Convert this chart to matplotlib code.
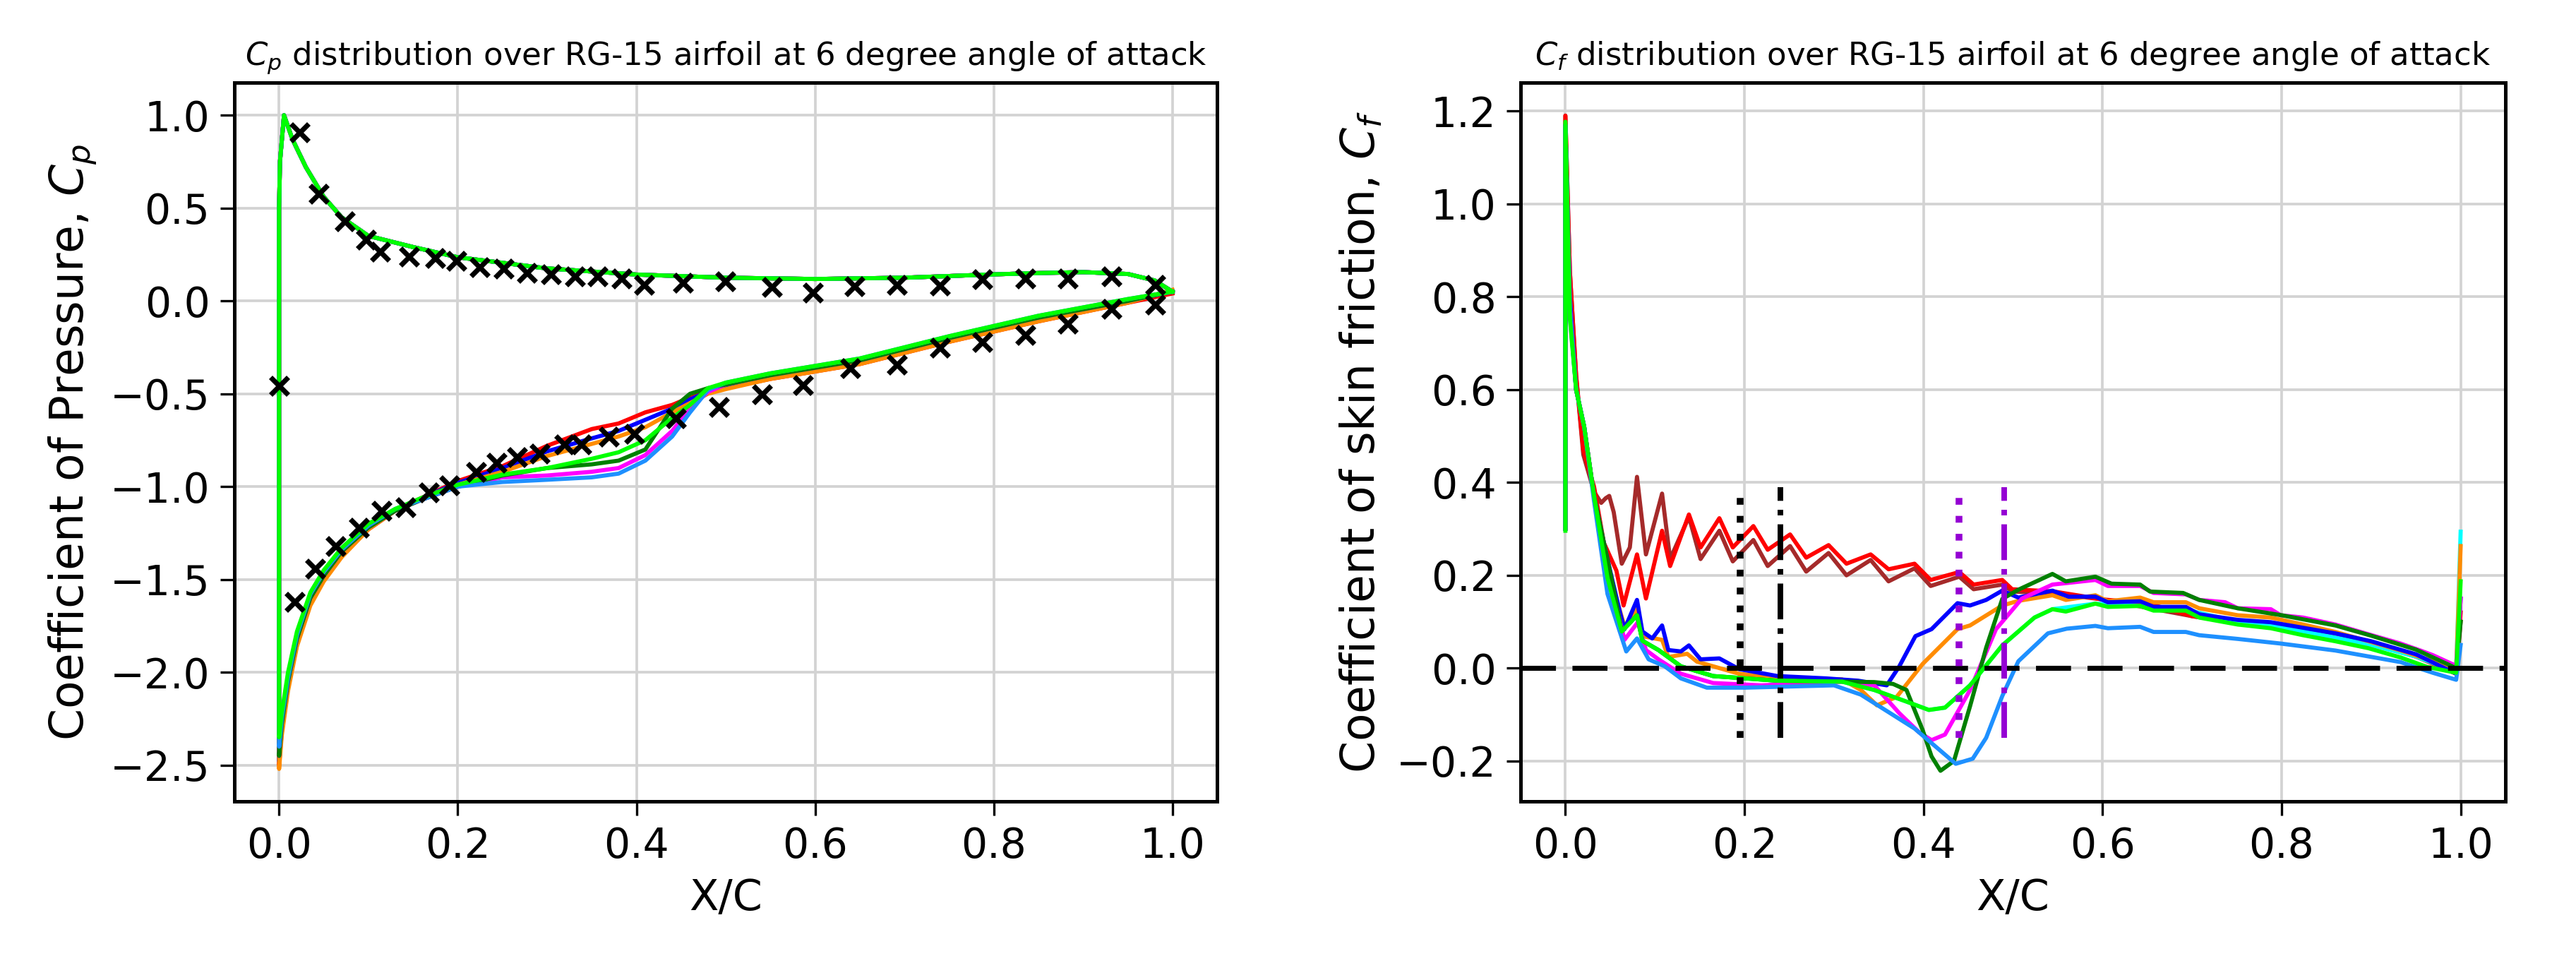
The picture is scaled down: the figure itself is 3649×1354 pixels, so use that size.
import numpy as np
import matplotlib
matplotlib.use('Agg')
import matplotlib.pyplot as plt

# ---------------- Cp data (left) ----------------
# upper side, shared by all runs (trailing edge -> leading edge)
cp_up_x = [1.0, 0.98, 0.95, 0.9, 0.85, 0.8, 0.7, 0.6, 0.5, 0.4, 0.3, 0.25, 0.2,
           0.15, 0.1, 0.07, 0.05, 0.03, 0.015, 0.0055, 0.001, 0.0]
cp_up = [0.05, 0.11, 0.145, 0.155, 0.15, 0.143, 0.125, 0.118, 0.125, 0.142, 0.175,
         0.205, 0.235, 0.29, 0.35, 0.45, 0.56, 0.72, 0.87, 1.0, 0.75, 0.5]

# lower side (leading edge -> trailing edge)
cp_lo_x = [0.0, 0.003, 0.01, 0.02, 0.035, 0.05, 0.07, 0.1, 0.13, 0.16, 0.2, 0.25,
           0.3, 0.35, 0.38, 0.41, 0.44, 0.46, 0.48, 0.5, 0.55, 0.65, 0.75, 0.85,
           0.95, 1.0]
cp_red = [-2.5, -2.32, -2.08, -1.85, -1.63, -1.5, -1.37, -1.23, -1.13, -1.06, -0.97,
          -0.89, -0.78, -0.69, -0.66, -0.6, -0.56, -0.52, -0.49, -0.47, -0.42, -0.34,
          -0.22, -0.11, -0.01, 0.04]
cp_blue = [-2.48, -2.3, -2.06, -1.83, -1.61, -1.49, -1.36, -1.22, -1.13, -1.06, -0.98,
           -0.9, -0.81, -0.74, -0.7, -0.64, -0.58, -0.53, -0.49, -0.455, -0.4, -0.32,
           -0.2, -0.09, 0.0, 0.05]
cp_orange = [-2.52, -2.34, -2.1, -1.86, -1.64, -1.51, -1.38, -1.23, -1.13, -1.06, -0.99,
             -0.92, -0.835, -0.77, -0.73, -0.68, -0.6, -0.55, -0.5, -0.475, -0.42, -0.34,
             -0.22, -0.11, -0.01, 0.06]
cp_magenta = [-2.45, -2.28, -2.05, -1.82, -1.6, -1.48, -1.35, -1.22, -1.13, -1.07, -1.0,
              -0.95, -0.94, -0.92, -0.9, -0.83, -0.7, -0.58, -0.49, -0.45, -0.4, -0.32,
              -0.2, -0.09, 0.0, 0.05]
cp_dgreen = [-2.45, -2.28, -2.05, -1.82, -1.6, -1.48, -1.35, -1.22, -1.13, -1.07, -1.0,
             -0.94, -0.9, -0.88, -0.86, -0.8, -0.58, -0.5, -0.47, -0.45, -0.4, -0.32,
             -0.2, -0.09, 0.0, 0.05]
cp_dblue = [-2.4, -2.25, -2.03, -1.8, -1.58, -1.46, -1.34, -1.21, -1.12, -1.07, -1.0,
            -0.975, -0.963, -0.95, -0.93, -0.86, -0.73, -0.6, -0.48, -0.44, -0.39, -0.31,
            -0.19, -0.08, 0.01, 0.05]
cp_lime = [-2.35, -2.22, -2.0, -1.78, -1.57, -1.45, -1.33, -1.2, -1.12, -1.06, -0.99,
           -0.935, -0.9, -0.85, -0.815, -0.75, -0.63, -0.56, -0.47, -0.44, -0.39, -0.31,
           -0.19, -0.08, 0.01, 0.05]

# experimental points
exp_x = [0.0, 0.023, 0.044, 0.073, 0.097, 0.113, 0.145, 0.174, 0.198, 0.224, 0.251,
         0.277, 0.304, 0.331, 0.356, 0.383, 0.408, 0.452, 0.499, 0.551, 0.597, 0.644,
         0.691, 0.739, 0.787, 0.835, 0.882, 0.931, 0.98,
         0.017, 0.04, 0.063, 0.089, 0.114, 0.141, 0.167, 0.19, 0.22, 0.243, 0.266,
         0.291, 0.319, 0.338, 0.369, 0.397, 0.444, 0.492, 0.54, 0.586, 0.639, 0.691,
         0.739, 0.787, 0.835, 0.882, 0.931, 0.98]
exp_cp = [-0.456, 0.91, 0.58, 0.43, 0.33, 0.267, 0.242, 0.233, 0.216, 0.182, 0.174,
          0.152, 0.144, 0.135, 0.132, 0.123, 0.09, 0.101, 0.106, 0.078, 0.047, 0.081,
          0.09, 0.084, 0.12, 0.123, 0.123, 0.132, 0.09,
          -1.62, -1.44, -1.32, -1.22, -1.13, -1.11, -1.03, -0.99, -0.92, -0.87, -0.84,
          -0.82, -0.77, -0.77, -0.73, -0.715, -0.63, -0.57, -0.5, -0.45, -0.36, -0.34,
          -0.25, -0.22, -0.18, -0.12, -0.04, -0.02]

# ---------------- Cf data (right) ----------------
cf_brown_x = [0.0, 0.0, 0.005, 0.012, 0.02, 0.032, 0.04, 0.045, 0.049, 0.054, 0.063, 0.072,
              0.08, 0.09, 0.108, 0.117, 0.138, 0.151, 0.172, 0.187, 0.21, 0.226, 0.251,
              0.269, 0.294, 0.314, 0.341, 0.361, 0.39, 0.408, 0.44, 0.456, 0.488, 0.5,
              0.55, 0.6, 0.7, 0.8, 0.9, 0.97, 0.995, 1.0]
cf_brown = [0.3, 1.19, 0.855, 0.63, 0.46, 0.38, 0.356, 0.366, 0.371, 0.336, 0.225, 0.26,
            0.412, 0.245, 0.376, 0.235, 0.326, 0.235, 0.296, 0.23, 0.276, 0.22, 0.263,
            0.208, 0.248, 0.2, 0.233, 0.187, 0.215, 0.177, 0.197, 0.17, 0.18, 0.165,
            0.16, 0.148, 0.112, 0.085, 0.052, 0.015, -0.01, 0.1]

cf_red_x = [0.0, 0.0, 0.005, 0.012, 0.02, 0.032, 0.043, 0.05, 0.057, 0.065, 0.08, 0.09,
            0.108, 0.117, 0.138, 0.151, 0.172, 0.187, 0.21, 0.226, 0.251, 0.269, 0.294,
            0.314, 0.341, 0.361, 0.39, 0.408, 0.44, 0.456, 0.488, 0.499, 0.546, 0.6,
            0.65, 0.7, 0.75, 0.8, 0.86, 0.9, 0.95, 0.995, 1.0]
cf_red = [0.3, 1.19, 0.855, 0.63, 0.47, 0.391, 0.27, 0.24, 0.21, 0.135, 0.245, 0.15,
          0.296, 0.22, 0.331, 0.26, 0.323, 0.26, 0.306, 0.255, 0.288, 0.238, 0.265,
          0.225, 0.245, 0.213, 0.225, 0.19, 0.207, 0.18, 0.19, 0.17, 0.165, 0.148,
          0.14, 0.112, 0.098, 0.085, 0.074, 0.052, 0.025, -0.012, 0.12]

cf_cyan_x = [0.0, 0.0, 0.005, 0.012, 0.021, 0.032, 0.047, 0.063, 0.08, 0.086, 0.104,
             0.129, 0.165, 0.237, 0.309, 0.345, 0.381, 0.406, 0.424, 0.452, 0.488, 0.524,
             0.544, 0.592, 0.642, 0.693, 0.751, 0.8, 0.86, 0.9, 0.95, 0.995, 1.0]
cf_cyan = [0.3, 1.17, 0.76, 0.6, 0.52, 0.371, 0.195, 0.079, 0.114, 0.059, 0.039,
           0.004, -0.017, -0.027, -0.029, -0.047, -0.072, -0.09, -0.085, -0.037, 0.049,
           0.109, 0.127, 0.139, 0.134, 0.126, 0.1, 0.088, 0.066, 0.05, 0.025, -0.008, 0.294]

cf_orange_x = [0.0, 0.0, 0.005, 0.012, 0.021, 0.032, 0.043, 0.054, 0.066, 0.081, 0.086,
               0.108, 0.115, 0.136, 0.147, 0.194, 0.237, 0.309, 0.33, 0.348, 0.37, 0.399,
               0.438, 0.452, 0.488, 0.506, 0.544, 0.559, 0.592, 0.606, 0.642, 0.657, 0.693,
               0.708, 0.751, 0.788, 0.824, 0.86, 0.897, 0.933, 0.969, 0.995, 1.0]
cf_orange = [0.3, 1.17, 0.8, 0.6, 0.52, 0.371, 0.27, 0.17, 0.09, 0.129, 0.069, 0.061,
             0.024, 0.031, 0.014, -0.012, -0.022, -0.024, -0.047, -0.08, -0.062, 0.009,
             0.084, 0.092, 0.135, 0.145, 0.157, 0.147, 0.157, 0.144, 0.152, 0.142, 0.142,
             0.129, 0.114, 0.109, 0.094, 0.078, 0.058, 0.038, 0.015, -0.005, 0.263]

cf_blue_x = [0.0, 0.0, 0.005, 0.012, 0.021, 0.032, 0.043, 0.05, 0.061, 0.066, 0.08, 0.086,
             0.097, 0.108, 0.115, 0.129, 0.138, 0.151, 0.172, 0.194, 0.237, 0.291, 0.327,
             0.359, 0.373, 0.391, 0.409, 0.438, 0.452, 0.47, 0.488, 0.506, 0.544, 0.562,
             0.592, 0.606, 0.642, 0.657, 0.693, 0.708, 0.751, 0.788, 0.86, 0.9, 0.95,
             0.995, 1.0]
cf_blue = [0.3, 1.17, 0.8, 0.6, 0.52, 0.371, 0.27, 0.21, 0.12, 0.084, 0.147, 0.079,
           0.064, 0.092, 0.039, 0.036, 0.049, 0.019, 0.021, -0.002, -0.017, -0.022, -0.027,
           -0.037, 0.004, 0.069, 0.084, 0.14, 0.135, 0.147, 0.167, 0.152, 0.167, 0.154,
           0.154, 0.142, 0.144, 0.132, 0.132, 0.116, 0.104, 0.099, 0.075, 0.058, 0.03,
           -0.012, 0.15]

cf_magenta_x = [0.0, 0.0, 0.005, 0.012, 0.021, 0.032, 0.043, 0.054, 0.066, 0.081, 0.09,
                0.104, 0.129, 0.165, 0.219, 0.309, 0.345, 0.373, 0.395, 0.409, 0.424, 0.452,
                0.481, 0.51, 0.544, 0.592, 0.606, 0.642, 0.657, 0.693, 0.708, 0.737, 0.751,
                0.788, 0.799, 0.824, 0.86, 0.897, 0.933, 0.955, 0.969, 0.995, 1.0]
cf_magenta = [0.3, 1.17, 0.78, 0.6, 0.52, 0.371, 0.26, 0.16, 0.061, 0.099, 0.039, 0.019,
              -0.012, -0.032, -0.037, -0.029, -0.037, -0.097, -0.138, -0.155, -0.143, -0.047,
              0.084, 0.15, 0.18, 0.19, 0.177, 0.177, 0.162, 0.159, 0.147, 0.142, 0.129,
              0.127, 0.114, 0.109, 0.094, 0.073, 0.053, 0.038, 0.028, 0.005, 0.15]

cf_dgreen_x = [0.0, 0.0, 0.005, 0.012, 0.021, 0.032, 0.043, 0.054, 0.063, 0.08, 0.086,
               0.104, 0.129, 0.165, 0.237, 0.309, 0.345, 0.366, 0.381, 0.399, 0.409, 0.419,
               0.434, 0.452, 0.47, 0.488, 0.506, 0.544, 0.559, 0.592, 0.61, 0.642, 0.653,
               0.69, 0.708, 0.751, 0.8, 0.86, 0.9, 0.95, 0.995, 1.0]
cf_dgreen = [0.3, 1.17, 0.77, 0.6, 0.52, 0.371, 0.27, 0.17, 0.079, 0.114, 0.059, 0.039,
             0.004, -0.017, -0.027, -0.029, -0.03, -0.034, -0.047, -0.133, -0.19, -0.221,
             -0.2, -0.082, 0.044, 0.149, 0.169, 0.203, 0.187, 0.197, 0.182, 0.18, 0.165,
             0.162, 0.147, 0.129, 0.114, 0.092, 0.07, 0.04, 0.0, 0.1]

cf_dblue_x = [0.0, 0.0, 0.005, 0.012, 0.021, 0.032, 0.047, 0.068, 0.08, 0.093, 0.111,
              0.129, 0.158, 0.201, 0.3, 0.33, 0.39, 0.436, 0.455, 0.47, 0.488, 0.506,
              0.539, 0.56, 0.592, 0.606, 0.642, 0.657, 0.693, 0.708, 0.751, 0.799, 0.86,
              0.933, 0.969, 0.995, 1.0]
cf_dblue = [0.3, 1.17, 0.77, 0.6, 0.52, 0.36, 0.16, 0.036, 0.064, 0.019, 0.004, -0.022,
            -0.042, -0.042, -0.037, -0.057, -0.13, -0.206, -0.195, -0.15, -0.06, 0.015,
            0.075, 0.085, 0.091, 0.086, 0.089, 0.078, 0.078, 0.071, 0.063, 0.053, 0.038,
            0.013, -0.01, -0.025, 0.05]

cf_lime_x = [0.0, 0.0, 0.005, 0.012, 0.021, 0.032, 0.047, 0.063, 0.08, 0.086, 0.104,
             0.129, 0.165, 0.237, 0.309, 0.345, 0.381, 0.406, 0.424, 0.452, 0.488, 0.524,
             0.544, 0.559, 0.592, 0.606, 0.642, 0.657, 0.693, 0.708, 0.751, 0.788, 0.824,
             0.86, 0.897, 0.933, 0.962, 0.995, 1.0]
cf_lime = [0.296, 1.177, 0.753, 0.6, 0.52, 0.371, 0.195, 0.079, 0.114, 0.059, 0.039,
           0.004, -0.017, -0.027, -0.029, -0.047, -0.072, -0.09, -0.085, -0.037, 0.049,
           0.109, 0.127, 0.122, 0.139, 0.132, 0.134, 0.124, 0.124, 0.109, 0.094, 0.086,
           0.071, 0.058, 0.043, 0.023, 0.003, -0.01, 0.187]

# transition markers
trans_black = [0.195, 0.24]
trans_purple = [0.44, 0.49]

fig = plt.figure(figsize=(3649 / 300, 1354 / 300), dpi=300)
ax1 = fig.add_axes([0.0910, 0.1617, 0.3815, 0.7518])
ax2 = fig.add_axes([0.5903, 0.1617, 0.3823, 0.7518])

lw = 1.4
cp_runs = [(cp_red, 'red'), (cp_blue, 'blue'), (cp_orange, 'darkorange'),
           (cp_magenta, 'magenta'), (cp_dgreen, 'green'), (cp_dblue, 'dodgerblue'),
           (cp_lime, 'lime')]
for vals, col in cp_runs:
    xs = np.concatenate([cp_up_x, cp_lo_x])
    ys = np.concatenate([cp_up, vals])
    ax1.plot(xs, ys, color=col, lw=lw)
ax1.plot(exp_x, exp_cp, 'x', color='black', ms=6, mew=1.7)

cf_runs = [(cf_brown_x, cf_brown, 'brown'), (cf_red_x, cf_red, 'red'),
           (cf_cyan_x, cf_cyan, 'cyan'), (cf_orange_x, cf_orange, 'darkorange'),
           (cf_blue_x, cf_blue, 'blue'), (cf_magenta_x, cf_magenta, 'magenta'),
           (cf_dgreen_x, cf_dgreen, 'green'), (cf_dblue_x, cf_dblue, 'dodgerblue'),
           (cf_lime_x, cf_lime, 'lime')]
for xs, ys, col in cf_runs:
    ax2.plot(xs, ys, color=col, lw=lw)

ax2.axhline(0.0, color='black', lw=1.7, dashes=(7, 3.3))
ax2.vlines(trans_black[0], -0.15, 0.39, color='black', lw=2.3, linestyles=':')
ax2.vlines(trans_black[1], -0.15, 0.39, color='black', lw=1.9, linestyles='-.')
ax2.vlines(trans_purple[0], -0.15, 0.39, color='darkviolet', lw=2.3, linestyles=':')
ax2.vlines(trans_purple[1], -0.15, 0.39, color='darkviolet', lw=1.9, linestyles='-.')

ax1.set_xlim(-0.05, 1.05)
ax1.set_ylim(-2.695, 1.175)
ax1.set_yticks(np.arange(-2.5, 1.01, 0.5))
ax2.set_xlim(-0.05, 1.05)
ax2.set_ylim(-0.287, 1.261)
ax2.set_yticks(np.arange(-0.2, 1.21, 0.2))

for ax in (ax1, ax2):
    ax.set_xticks(np.arange(0, 1.01, 0.2))
    ax.grid(True, color='#d3d3d3', lw=0.9)
    ax.set_axisbelow(True)
    ax.tick_params(labelsize=14, length=4.8, width=0.8)
    for s in ax.spines.values():
        s.set_linewidth(1.2)
    ax.set_xlabel('X/C', fontsize=14.5)

ax1.set_ylabel('Coefficient of Pressure, $C_p$', fontsize=15.5)
ax2.set_ylabel('Coefficient of skin friction, $C_f$', fontsize=15.5)
ax1.set_title('$C_p$ distribution over RG-15 airfoil at 6 degree angle of attack', fontsize=10.8)
ax2.set_title('$C_f$ distribution over RG-15 airfoil at 6 degree angle of attack', fontsize=10.8)

fig.savefig('out.png', dpi=300)
